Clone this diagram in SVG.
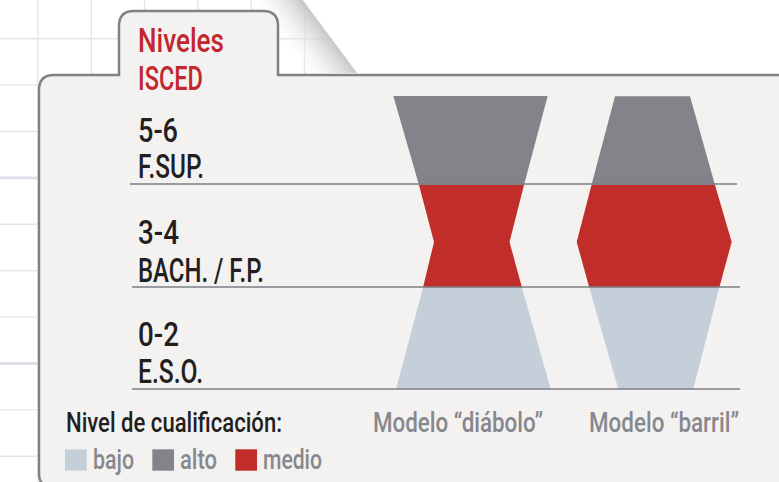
<svg xmlns="http://www.w3.org/2000/svg" width="779" height="482" viewBox="0 0 779 482">
<defs>
<style>
.grid{stroke:#e2e6ec;stroke-width:1.4;fill:none}
.gridb{stroke:#dbe0e7;stroke-width:2.8;fill:none}
.sep{stroke:#7d7e83;stroke-width:1.6;fill:none}
.big{font-family:Roboto,"Liberation Sans",sans-serif;font-size:34px;font-weight:500;fill:#231f20}
.title{font-family:Roboto,"Liberation Sans",sans-serif;font-size:34px;font-weight:500;fill:#c1272d}
.mid{font-family:Roboto,"Liberation Sans",sans-serif;font-size:28px;font-weight:500;fill:#231f20}
.gray{font-family:Roboto,"Liberation Sans",sans-serif;font-size:28px;font-weight:500;fill:#87888d}
.hi{fill:#838489}
.me{fill:#c12e29}
.lo{fill:#c5cfd9}
</style>
<clipPath id="pageclip"><polygon points="0,0 302.7,0 357,72.5 357,482 0,482"/></clipPath>
<linearGradient id="curl" gradientUnits="userSpaceOnUse" x1="294" y1="64" x2="331" y2="36">
<stop offset="0" stop-color="#ffffff" stop-opacity="0"/>
<stop offset="1" stop-color="#bdbdbd" stop-opacity="0.9"/>
</linearGradient>
</defs>
<rect x="0" y="0" width="779" height="482" fill="#ffffff"/>
<g id="grid" clip-path="url(#pageclip)">
<path class="grid" d="M0,38.7H357M0,85.1H357M0,131.5H357M0,224.3H357M0,270.7H357M0,317.1H357M0,409.9H357M0,456.3H357"/>
<path class="gridb" d="M0,177.9H357M0,363.5H357"/>
<path class="grid" d="M38,0V482M91.3,0V482M144.6,0V482M197.9,0V482M251.2,0V482M304.5,0V482"/>
</g>
<polygon id="curl-shade" points="240,0 302.7,0 357,73 270,73" fill="url(#curl)"/>
<g id="card">
<path d="M51,486 Q39,486 39,474 L39,90 Q39,75 54,75 L119,75 L119,26 Q119,11 134,11 L263,11 Q278,11 278,26 L278,75 L782,75 L782,486 Z" fill="#f3f2f1" stroke="#808185" stroke-width="2.5"/>
</g>
<g id="title">
<text class="title" x="138" y="52" textLength="86" lengthAdjust="spacingAndGlyphs">Niveles</text>
<text class="title" x="138" y="90" textLength="65" lengthAdjust="spacingAndGlyphs">ISCED</text>
</g>
<g id="diabolo">
<polygon class="hi" points="393.3,96 547.7,96 524,185 419,185"/>
<polygon class="me" points="419,185 524,185 509.5,242 522,287.5 423,287.5 434,242"/>
<polygon class="lo" points="423,287.5 522,287.5 550.7,389 396,389"/>
</g>
<g id="barril">
<polygon class="hi" points="615,96.3 690,96.3 715,185 591.5,185"/>
<polygon class="me" points="591.5,185 715,185 731.7,242 719.3,287.5 589.3,287.5 576.7,242"/>
<polygon class="lo" points="589.3,287.5 719.3,287.5 693.3,389 618.3,389"/>
</g>
<g id="connectors">
<path class="sep" d="M130,184H737"/>
<path class="sep" d="M132,287H740"/>
<path class="sep" d="M132,389H740"/>
</g>
<g id="row-high">
<text class="big" x="138" y="141.7" textLength="40" lengthAdjust="spacingAndGlyphs">5-6</text>
<text class="big" x="138" y="178.3" textLength="66" lengthAdjust="spacingAndGlyphs">F.SUP.</text>
</g>
<g id="row-mid">
<text class="big" x="138" y="244.3" textLength="41" lengthAdjust="spacingAndGlyphs">3-4</text>
<text class="big" x="138" y="281.7" textLength="126" lengthAdjust="spacingAndGlyphs">BACH. / F.P.</text>
</g>
<g id="row-low">
<text class="big" x="138" y="345.7" textLength="41" lengthAdjust="spacingAndGlyphs">0-2</text>
<text class="big" x="138" y="383.3" textLength="65" lengthAdjust="spacingAndGlyphs">E.S.O.</text>
</g>
<g id="labels">
<text class="gray" x="373" y="431.7" textLength="170" lengthAdjust="spacingAndGlyphs">Modelo “diábolo”</text>
<text class="gray" x="589" y="431.7" textLength="150" lengthAdjust="spacingAndGlyphs">Modelo “barril”</text>
</g>
<g id="legend">
<text class="mid" x="66" y="431.7" textLength="216" lengthAdjust="spacingAndGlyphs">Nivel de cualificación:</text>
<rect class="lo" x="65" y="449.3" width="21.7" height="21.4"/>
<text class="gray" x="93" y="469.3" textLength="41" lengthAdjust="spacingAndGlyphs">bajo</text>
<rect class="hi" x="152.3" y="449.3" width="21.7" height="21.4"/>
<text class="gray" x="180" y="469.3" textLength="37" lengthAdjust="spacingAndGlyphs">alto</text>
<rect class="me" x="235.3" y="449.3" width="21.7" height="21.4"/>
<text class="gray" x="263" y="469.3" textLength="59" lengthAdjust="spacingAndGlyphs">medio</text>
</g>
</svg>
